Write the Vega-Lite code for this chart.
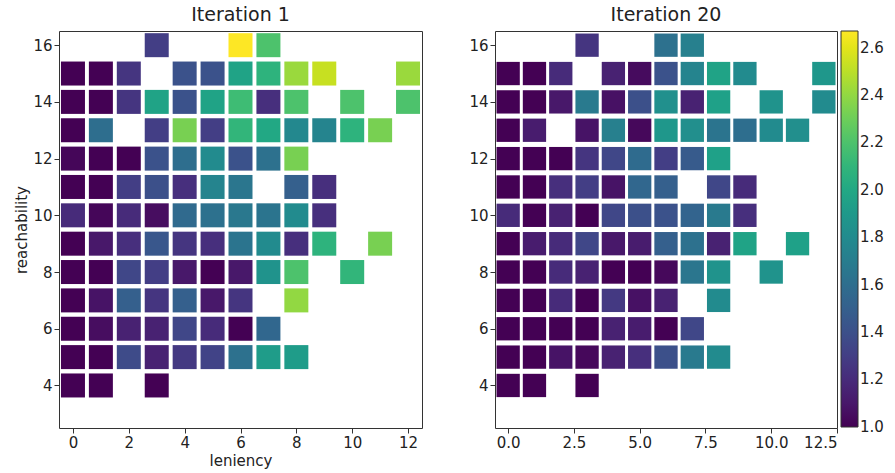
{
  "$schema": "https://vega.github.io/schema/vega-lite/v6.json",
  "padding": {"left": 14, "top": 5, "right": 5, "bottom": 5},
  "background": "white",
  "spacing": 73,
  "bounds": "flush",
  "datasets": {
    "iter1": [
      {"x":3,"y":16,"v":1.3},{"x":6,"y":16,"v":2.67},{"x":7,"y":16,"v":2.2},
      {"x":0,"y":15,"v":1.0},{"x":1,"y":15,"v":1.0},{"x":2,"y":15,"v":1.25},{"x":4,"y":15,"v":1.42},{"x":5,"y":15,"v":1.42},{"x":6,"y":15,"v":1.97},{"x":7,"y":15,"v":2.08},{"x":8,"y":15,"v":2.42},{"x":9,"y":15,"v":2.53},{"x":12,"y":15,"v":2.42},
      {"x":0,"y":14,"v":1.0},{"x":1,"y":14,"v":1.0},{"x":2,"y":14,"v":1.25},{"x":3,"y":14,"v":1.97},{"x":4,"y":14,"v":1.42},{"x":5,"y":14,"v":1.97},{"x":6,"y":14,"v":2.15},{"x":7,"y":14,"v":1.22},{"x":8,"y":14,"v":2.2},{"x":10,"y":14,"v":2.2},{"x":12,"y":14,"v":2.2},
      {"x":0,"y":13,"v":1.0},{"x":1,"y":13,"v":1.6},{"x":3,"y":13,"v":1.3},{"x":4,"y":13,"v":2.33},{"x":5,"y":13,"v":1.3},{"x":6,"y":13,"v":2.1},{"x":7,"y":13,"v":2.0},{"x":8,"y":13,"v":1.78},{"x":9,"y":13,"v":1.75},{"x":10,"y":13,"v":2.08},{"x":11,"y":13,"v":2.33},
      {"x":0,"y":12,"v":1.02},{"x":1,"y":12,"v":1.0},{"x":2,"y":12,"v":1.0},{"x":3,"y":12,"v":1.42},{"x":4,"y":12,"v":1.6},{"x":5,"y":12,"v":1.8},{"x":6,"y":12,"v":1.42},{"x":7,"y":12,"v":1.62},{"x":8,"y":12,"v":2.33},
      {"x":0,"y":11,"v":1.0},{"x":1,"y":11,"v":1.0},{"x":2,"y":11,"v":1.3},{"x":3,"y":11,"v":1.4},{"x":4,"y":11,"v":1.22},{"x":5,"y":11,"v":1.75},{"x":6,"y":11,"v":1.65},{"x":8,"y":11,"v":1.5},{"x":9,"y":11,"v":1.22},
      {"x":0,"y":10,"v":1.2},{"x":1,"y":10,"v":1.02},{"x":2,"y":10,"v":1.2},{"x":3,"y":10,"v":1.05},{"x":4,"y":10,"v":1.57},{"x":5,"y":10,"v":1.62},{"x":6,"y":10,"v":1.67},{"x":7,"y":10,"v":1.64},{"x":8,"y":10,"v":1.8},{"x":9,"y":10,"v":1.22},
      {"x":0,"y":9,"v":1.0},{"x":1,"y":9,"v":1.1},{"x":2,"y":9,"v":1.22},{"x":3,"y":9,"v":1.45},{"x":4,"y":9,"v":1.25},{"x":5,"y":9,"v":1.22},{"x":6,"y":9,"v":1.64},{"x":7,"y":9,"v":1.8},{"x":8,"y":9,"v":1.22},{"x":9,"y":9,"v":2.08},{"x":11,"y":9,"v":2.33},
      {"x":0,"y":8,"v":1.0},{"x":1,"y":8,"v":1.0},{"x":2,"y":8,"v":1.35},{"x":3,"y":8,"v":1.3},{"x":4,"y":8,"v":1.1},{"x":5,"y":8,"v":1.0},{"x":6,"y":8,"v":1.1},{"x":7,"y":8,"v":1.85},{"x":8,"y":8,"v":2.2},{"x":10,"y":8,"v":2.1},
      {"x":0,"y":7,"v":1.0},{"x":1,"y":7,"v":1.08},{"x":2,"y":7,"v":1.5},{"x":3,"y":7,"v":1.25},{"x":4,"y":7,"v":1.5},{"x":5,"y":7,"v":1.1},{"x":6,"y":7,"v":1.25},{"x":8,"y":7,"v":2.4},
      {"x":0,"y":6,"v":1.0},{"x":1,"y":6,"v":1.05},{"x":2,"y":6,"v":1.15},{"x":3,"y":6,"v":1.15},{"x":4,"y":6,"v":1.35},{"x":5,"y":6,"v":1.2},{"x":6,"y":6,"v":1.0},{"x":7,"y":6,"v":1.55},
      {"x":0,"y":5,"v":1.0},{"x":1,"y":5,"v":1.0},{"x":2,"y":5,"v":1.37},{"x":3,"y":5,"v":1.15},{"x":4,"y":5,"v":1.27},{"x":5,"y":5,"v":1.33},{"x":6,"y":5,"v":1.62},{"x":7,"y":5,"v":1.92},{"x":8,"y":5,"v":1.92},
      {"x":0,"y":4,"v":1.0},{"x":1,"y":4,"v":1.0},{"x":3,"y":4,"v":1.0}
    ],
    "iter20": [
      {"x":3,"y":16,"v":1.25},{"x":6,"y":16,"v":1.62},{"x":7,"y":16,"v":1.72},
      {"x":0,"y":15,"v":1.0},{"x":1,"y":15,"v":1.0},{"x":2,"y":15,"v":1.2},{"x":4,"y":15,"v":1.15},{"x":5,"y":15,"v":1.04},{"x":6,"y":15,"v":1.42},{"x":7,"y":15,"v":1.75},{"x":8,"y":15,"v":1.97},{"x":9,"y":15,"v":1.8},{"x":12,"y":15,"v":1.88},
      {"x":0,"y":14,"v":1.0},{"x":1,"y":14,"v":1.0},{"x":2,"y":14,"v":1.1},{"x":3,"y":14,"v":1.68},{"x":4,"y":14,"v":1.07},{"x":5,"y":14,"v":1.4},{"x":6,"y":14,"v":1.83},{"x":7,"y":14,"v":1.15},{"x":8,"y":14,"v":1.95},{"x":10,"y":14,"v":1.85},{"x":12,"y":14,"v":1.8},
      {"x":0,"y":13,"v":1.0},{"x":1,"y":13,"v":1.12},{"x":3,"y":13,"v":1.08},{"x":4,"y":13,"v":1.72},{"x":5,"y":13,"v":1.03},{"x":6,"y":13,"v":1.88},{"x":7,"y":13,"v":1.82},{"x":8,"y":13,"v":1.64},{"x":9,"y":13,"v":1.6},{"x":10,"y":13,"v":1.8},{"x":11,"y":13,"v":1.82},
      {"x":0,"y":12,"v":1.0},{"x":1,"y":12,"v":1.0},{"x":2,"y":12,"v":1.0},{"x":3,"y":12,"v":1.25},{"x":4,"y":12,"v":1.35},{"x":5,"y":12,"v":1.58},{"x":6,"y":12,"v":1.3},{"x":7,"y":12,"v":1.47},{"x":8,"y":12,"v":1.95},
      {"x":0,"y":11,"v":1.0},{"x":1,"y":11,"v":1.0},{"x":2,"y":11,"v":1.22},{"x":3,"y":11,"v":1.3},{"x":4,"y":11,"v":1.08},{"x":5,"y":11,"v":1.55},{"x":6,"y":11,"v":1.5},{"x":8,"y":11,"v":1.35},{"x":9,"y":11,"v":1.2},
      {"x":0,"y":10,"v":1.2},{"x":1,"y":10,"v":1.0},{"x":2,"y":10,"v":1.15},{"x":3,"y":10,"v":1.0},{"x":4,"y":10,"v":1.35},{"x":5,"y":10,"v":1.4},{"x":6,"y":10,"v":1.42},{"x":7,"y":10,"v":1.53},{"x":8,"y":10,"v":1.68},{"x":9,"y":10,"v":1.22},
      {"x":0,"y":9,"v":1.0},{"x":1,"y":9,"v":1.12},{"x":2,"y":9,"v":1.2},{"x":3,"y":9,"v":1.35},{"x":4,"y":9,"v":1.1},{"x":5,"y":9,"v":1.12},{"x":6,"y":9,"v":1.5},{"x":7,"y":9,"v":1.62},{"x":8,"y":9,"v":1.15},{"x":9,"y":9,"v":1.97},{"x":11,"y":9,"v":1.95},
      {"x":0,"y":8,"v":1.0},{"x":1,"y":8,"v":1.0},{"x":2,"y":8,"v":1.2},{"x":3,"y":8,"v":1.15},{"x":4,"y":8,"v":1.0},{"x":5,"y":8,"v":1.0},{"x":6,"y":8,"v":1.03},{"x":7,"y":8,"v":1.65},{"x":8,"y":8,"v":1.85},{"x":10,"y":8,"v":1.85},
      {"x":0,"y":7,"v":1.0},{"x":1,"y":7,"v":1.0},{"x":2,"y":7,"v":1.2},{"x":3,"y":7,"v":1.0},{"x":4,"y":7,"v":1.27},{"x":5,"y":7,"v":1.07},{"x":6,"y":7,"v":1.15},{"x":8,"y":7,"v":1.8},
      {"x":0,"y":6,"v":1.0},{"x":1,"y":6,"v":1.0},{"x":2,"y":6,"v":1.0},{"x":3,"y":6,"v":1.0},{"x":4,"y":6,"v":1.15},{"x":5,"y":6,"v":1.12},{"x":6,"y":6,"v":1.0},{"x":7,"y":6,"v":1.35},
      {"x":0,"y":5,"v":1.0},{"x":1,"y":5,"v":1.0},{"x":2,"y":5,"v":1.08},{"x":3,"y":5,"v":1.03},{"x":4,"y":5,"v":1.15},{"x":5,"y":5,"v":1.22},{"x":6,"y":5,"v":1.4},{"x":7,"y":5,"v":1.68},{"x":8,"y":5,"v":1.8},
      {"x":0,"y":4,"v":1.0},{"x":1,"y":4,"v":1.0},{"x":3,"y":4,"v":1.0}
    ]
  },
  "hconcat": [
    {
      "title": "Iteration 1",
      "width": 363,
      "height": 397,
      "data": {"name": "iter1"},
      "mark": {"type": "square", "size": 576, "filled": true, "opacity": 1},
      "encoding": {
        "x": {"field": "x", "type": "quantitative", "title": "leniency",
              "scale": {"domain": [-0.5, 12.5], "nice": false, "zero": false},
              "axis": {"values": [0, 2, 4, 6, 8, 10, 12], "format": "d"}},
        "y": {"field": "y", "type": "quantitative", "title": "reachability",
              "scale": {"domain": [2.5, 16.5], "nice": false, "zero": false},
              "axis": {"values": [4, 6, 8, 10, 12, 14, 16], "format": "d"}},
        "color": {"field": "v", "type": "quantitative",
                  "scale": {"scheme": "viridis", "domain": [0.999, 2.67]},
                  "legend": {"values": [1.0, 1.2, 1.4, 1.6, 1.8, 2.0, 2.2, 2.4, 2.6], "format": ".1f"}}
      }
    },
    {
      "title": "Iteration 20",
      "width": 342,
      "height": 397,
      "data": {"name": "iter20"},
      "mark": {"type": "square", "size": 543, "filled": true, "opacity": 1},
      "encoding": {
        "x": {"field": "x", "type": "quantitative", "title": null,
              "scale": {"domain": [-0.5, 12.5], "nice": false, "zero": false},
              "axis": {"values": [0, 2.5, 5, 7.5, 10, 12.5], "format": ".1f"}},
        "y": {"field": "y", "type": "quantitative", "title": null,
              "scale": {"domain": [2.5, 16.5], "nice": false, "zero": false},
              "axis": {"values": [4, 6, 8, 10, 12, 14, 16], "format": "d"}},
        "color": {"field": "v", "type": "quantitative",
                  "scale": {"scheme": "viridis", "domain": [0.999, 2.67]},
                  "legend": {"values": [1.0, 1.2, 1.4, 1.6, 1.8, 2.0, 2.2, 2.4, 2.6], "format": ".1f"}}
      }
    }
  ],
  "config": {
    "font": "DejaVu Sans",
    "view": {"stroke": "#333", "strokeWidth": 1},
    "axis": {"labelFontSize": 15, "titleFontSize": 15, "labelColor": "#222", "titleColor": "#222", "tickColor": "#333", "tickSize": 5, "labelPadding": 2, "domain": false, "grid": false, "titleFontWeight": "normal", "titlePadding": 3},
    "title": {"fontSize": 19, "fontWeight": "normal", "offset": 6, "color": "#222"},
    "legend": {"orient": "right", "offset": 3, "title": null, "gradientLength": 396, "gradientThickness": 17, "gradientStrokeColor": "#333", "gradientStrokeWidth": 1, "labelFontSize": 15, "labelColor": "#222", "labelOffset": 7, "padding": 0}
  }
}
